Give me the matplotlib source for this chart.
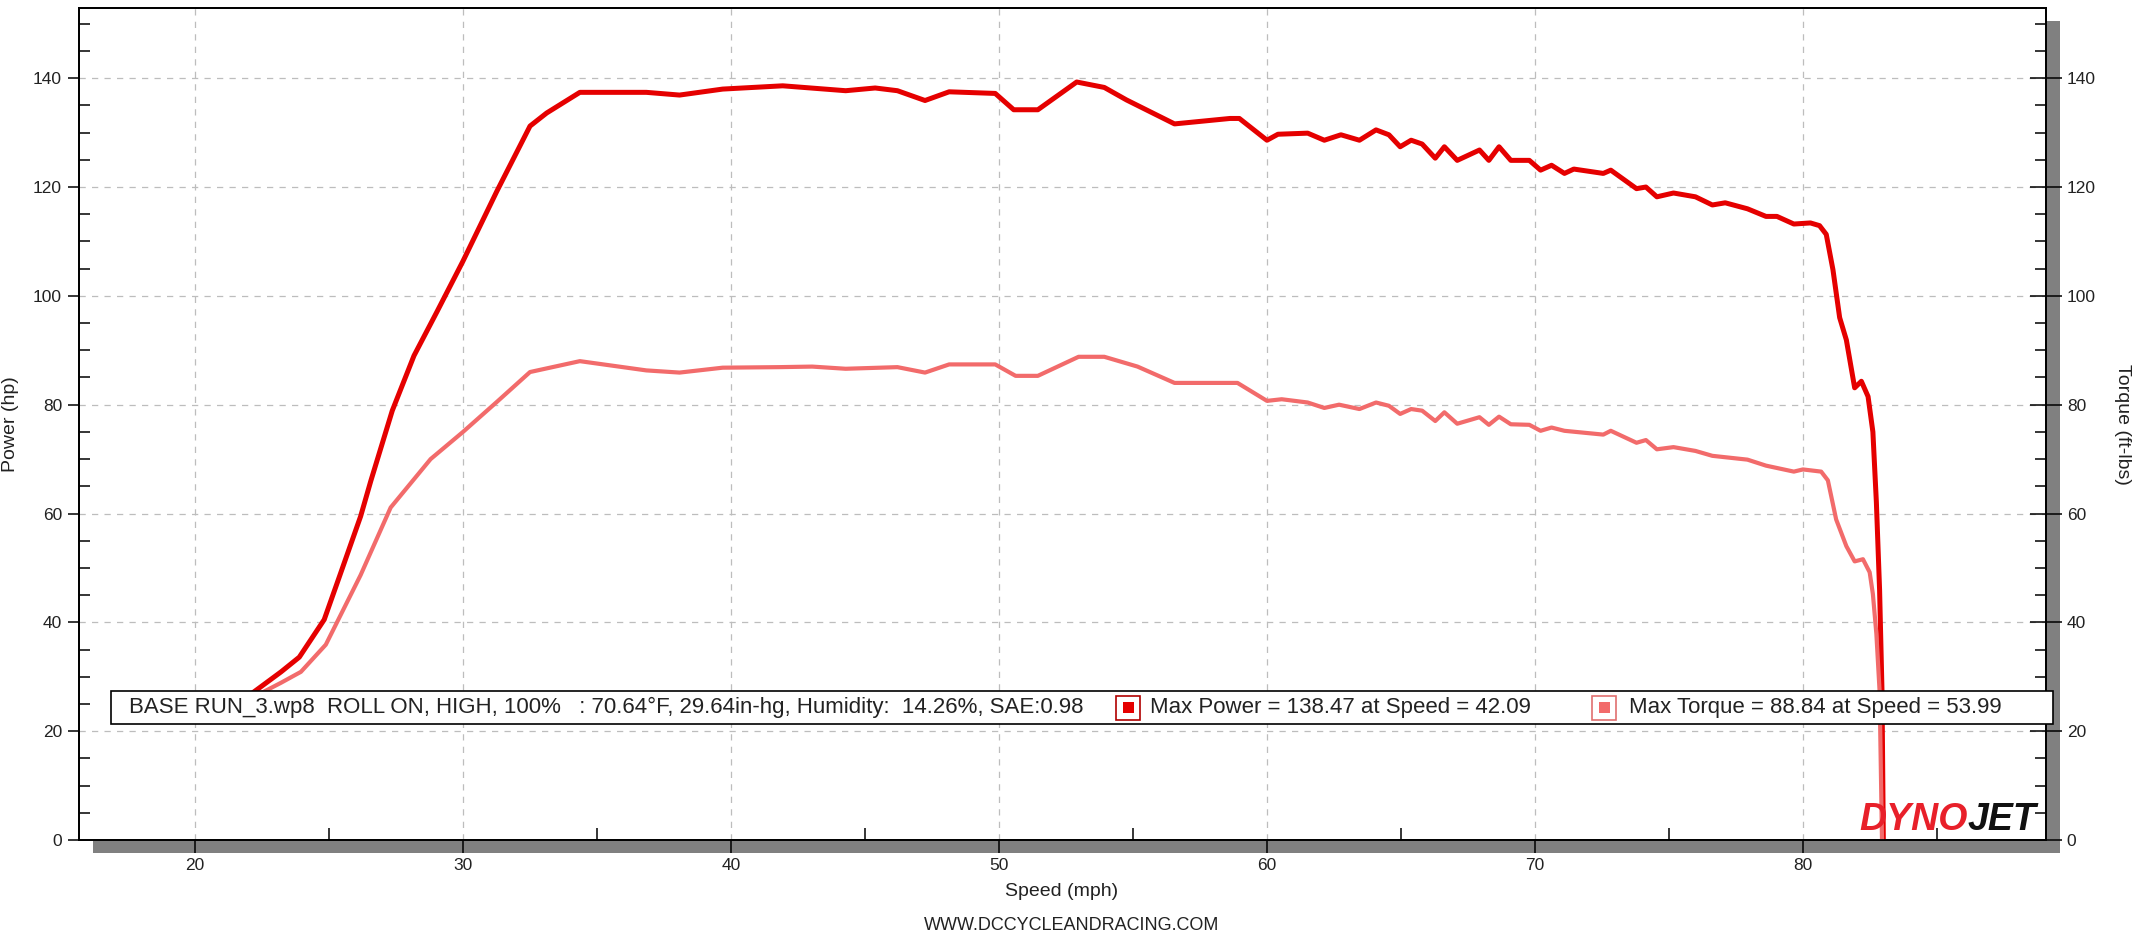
import numpy as np
import matplotlib
matplotlib.use("Agg")
import matplotlib.pyplot as plt
from matplotlib.patches import Rectangle
from matplotlib.ticker import MultipleLocator

# Dyno run - power / torque vs speed
plt.rcParams['font.family'] = ['Liberation Sans', 'DejaVu Sans']

## 1. DATA
power_speed = [22.0, 23.21, 23.89, 24.82, 25.38, 26.18, 26.56, 27.36, 28.17, 29.03,
               30.0, 31.26, 32.5, 33.12, 34.36, 36.84, 38.08, 39.69, 41.93, 44.28,
               45.38, 46.21, 47.24, 48.14, 49.86, 50.55, 51.45, 52.9, 53.93, 54.76,
               56.55, 58.62, 58.97, 60.0, 60.41, 61.52, 62.14, 62.76, 63.45, 64.07,
               64.55, 64.97, 65.38, 65.79, 66.28, 66.62, 67.1, 67.93, 68.28, 68.66,
               69.1, 69.79, 70.21, 70.62, 71.1, 71.45, 72.55, 72.83, 73.79, 74.14,
               74.55, 75.17, 75.99, 76.62, 77.1, 77.93, 78.62, 79.03, 79.66, 80.28,
               80.62, 80.87, 81.12, 81.37, 81.62, 81.93, 82.18, 82.43, 82.61, 82.74,
               82.86, 82.95, 83.0]
power_hp = [26.5, 30.9, 33.6, 40.5, 48.3, 59.5, 66.0, 78.9, 89.0, 97.1,
            106.4, 119.2, 131.2, 133.6, 137.4, 137.4, 136.9, 138.0, 138.6, 137.7,
            138.2, 137.7, 135.9, 137.5, 137.2, 134.2, 134.2, 139.3, 138.3, 136.0,
            131.6, 132.6, 132.6, 128.6, 129.7, 129.9, 128.6, 129.6, 128.6, 130.5,
            129.6, 127.4, 128.6, 127.9, 125.3, 127.4, 124.9, 126.8, 124.9, 127.4,
            124.9, 124.9, 123.1, 124.0, 122.5, 123.3, 122.5, 123.1, 119.7, 120.0,
            118.2, 118.9, 118.2, 116.7, 117.1, 116.0, 114.6, 114.6, 113.2, 113.4,
            112.9, 111.3, 104.8, 96.0, 91.9, 83.1, 84.3, 81.5, 75.0, 62.1,
            46.0, 27.4, 0.0]

torque_speed = [22.0, 23.21, 23.95, 24.88, 26.18, 27.3, 28.79, 30.0, 31.26, 32.5,
                34.36, 36.84, 38.08, 39.69, 41.8, 43.03, 44.28, 46.21, 47.24, 48.14,
                49.86, 50.62, 51.45, 52.97, 53.93, 55.17, 56.55, 58.9, 60.0, 60.55,
                61.52, 62.14, 62.69, 63.45, 64.07, 64.55, 64.97, 65.38, 65.79, 66.28,
                66.62, 67.1, 67.93, 68.28, 68.66, 69.1, 69.79, 70.21, 70.62, 71.1,
                72.55, 72.83, 73.79, 74.14, 74.55, 75.17, 75.99, 76.62, 77.93, 78.62,
                79.66, 80.0, 80.68, 80.93, 81.24, 81.62, 81.93, 82.24, 82.49, 82.61,
                82.74, 82.86, 82.95]
torque_ftlb = [25.8, 28.9, 30.9, 35.9, 48.7, 61.1, 70.0, 75.0, 80.5, 86.0,
               88.0, 86.3, 85.9, 86.8, 86.9, 87.0, 86.6, 86.9, 85.9, 87.4,
               87.4, 85.3, 85.3, 88.8, 88.8, 87.0, 84.0, 84.0, 80.7, 81.0,
               80.4, 79.4, 80.0, 79.2, 80.4, 79.8, 78.3, 79.2, 78.9, 77.0,
               78.6, 76.5, 77.7, 76.3, 77.8, 76.4, 76.3, 75.2, 75.8, 75.2,
               74.5, 75.2, 73.0, 73.5, 71.8, 72.2, 71.5, 70.6, 69.9, 68.8,
               67.7, 68.1, 67.7, 66.1, 58.9, 54.0, 51.2, 51.6, 49.2, 45.2,
               37.9, 27.4, 0.0]

run_info = "BASE RUN_3.wp8  ROLL ON, HIGH, 100%   : 70.64°F, 29.64in-hg, Humidity:  14.26%, SAE:0.98"
power_label = "Max Power = 138.47 at Speed = 42.09"
torque_label = "Max Torque = 88.84 at Speed = 53.99"

POWER_COLOR = '#E50000'
TORQUE_COLOR = '#F26B6B'

## 2. FIGURE / AXES (pixel layout of the original screenshot)
W, H = 2139, 939
fig = plt.figure(figsize=(W / 100, H / 100), dpi=100)
fig.patch.set_facecolor('white')

ax_l, ax_b, ax_w, ax_h = 79, 99, 1967, 832  # pixels from bottom-left
ax = fig.add_axes([ax_l / W, ax_b / H, ax_w / W, ax_h / H])

# grey drop shadow behind the plot frame
shadow = Rectangle(((ax_l + 14) / W, (ax_b - 13) / H), ax_w / W, ax_h / H,
                   transform=fig.transFigure, facecolor='#808080',
                   edgecolor='none', zorder=-1)
fig.patches.append(shadow)

ax.set_xlim(15.67, 89.07)
ax.set_ylim(0, 152.9)
ax.set_facecolor('white')

ax.plot(power_speed, power_hp, color=POWER_COLOR, lw=3.6,
        solid_joinstyle='round', zorder=3)

ax2 = ax.twinx()
ax2.set_ylim(0, 152.9)
ax2.plot(torque_speed, torque_ftlb, color=TORQUE_COLOR, lw=3.0,
         solid_joinstyle='round', zorder=2)

## 3. TICKS, GRID, SPINES
ax.xaxis.set_major_locator(MultipleLocator(10))
ax.xaxis.set_minor_locator(MultipleLocator(5))
for a in (ax, ax2):
    a.yaxis.set_major_locator(MultipleLocator(20))
    a.yaxis.set_minor_locator(MultipleLocator(5))
    for s in a.spines.values():
        s.set_linewidth(1.3)
        s.set_color('black')

ax.tick_params(axis='y', which='major', direction='out', length=7.9, width=1.1,
               labelsize=12.5, pad=4.3, labelcolor='#222222')
ax.tick_params(axis='y', which='minor', direction='in', length=7.9, width=1.1)
ax.tick_params(axis='x', which='major', direction='out', length=9.4, width=1.1,
               labelsize=12.5, pad=3.6, labelcolor='#222222')
ax.tick_params(axis='x', which='minor', direction='in', length=8.6, width=1.1)
ax.tick_params(right=False, top=False, which='both')

ax2.tick_params(axis='y', which='major', direction='inout', length=23, width=1.1,
                labelsize=12.5, pad=3.5, labelcolor='#222222')
ax2.tick_params(axis='y', which='minor', direction='in', length=7.9, width=1.1)

ax.grid(True, which='major', color='#BDBDBD', linestyle=(0, (5, 5)), linewidth=0.9)

## 4. LEGEND STRIP (drawn over the curves)
lx0 = (111 - ax_l) / ax_w
lx1 = (2053 - ax_l) / ax_w
ly0 = (840 - 724) / ax_h
ly1 = (840 - 691) / ax_h
ty = (840 - 707.5) / ax_h
ax2.add_patch(Rectangle((lx0, ly0), lx1 - lx0, ly1 - ly0, transform=ax2.transAxes,
                        facecolor='white', edgecolor='black', lw=1.2,
                        zorder=5, clip_on=False))
ax2.text((129 - ax_l) / ax_w, ty, run_info, transform=ax2.transAxes, fontsize=16,
         color='#222222', ha='left', va='center', zorder=6)

def legend_marker(cx_px, edge, fill):
    cx = (cx_px - ax_l) / ax_w
    ow, oh = 24 / ax_w, 24 / ax_h
    iw, ih = 11 / ax_w, 11 / ax_h
    ax2.add_patch(Rectangle((cx - ow / 2, ty - oh / 2), ow, oh, transform=ax2.transAxes,
                            facecolor='white', edgecolor=edge, lw=1.2, zorder=6))
    ax2.add_patch(Rectangle((cx - iw / 2, ty - ih / 2), iw, ih, transform=ax2.transAxes,
                            facecolor=fill, edgecolor='none', zorder=7))

legend_marker(1128, '#B00000', POWER_COLOR)
ax2.text((1150 - ax_l) / ax_w, ty, power_label, transform=ax2.transAxes, fontsize=16,
         color='#222222', ha='left', va='center', zorder=6)
legend_marker(1604, '#E07070', TORQUE_COLOR)
ax2.text((1629 - ax_l) / ax_w, ty, torque_label, transform=ax2.transAxes, fontsize=16,
         color='#222222', ha='left', va='center', zorder=6)

## 5. LOGO + LABELS
split = (1968 - ax_l) / ax_w
ax2.text(split, 0.002, "DYNO", transform=ax2.transAxes, fontsize=27, fontweight='bold',
         fontstyle='italic', color='#E8202A', ha='right', va='bottom', zorder=8)
ax2.text(split, 0.002, "JET", transform=ax2.transAxes, fontsize=27, fontweight='bold',
         fontstyle='italic', color='#111111', ha='left', va='bottom', zorder=8)

fig.text(11 / W, 1 - 424 / H, "Power (hp)", rotation=90, fontsize=14,
         ha='center', va='center', color='#222222')
fig.text(2122 / W, 1 - 424 / H, "Torque (ft-lbs)", rotation=270, fontsize=14,
         ha='center', va='center', color='#222222')
fig.text(1062 / W, 1 - 891 / H, "Speed (mph)", fontsize=14,
         ha='center', va='center', color='#222222')
fig.text(1072 / W, 1 - 925 / H, "WWW.DCCYCLEANDRACING.COM", fontsize=13,
         ha='center', va='center', color='#222222')

fig.savefig('out.png', dpi=100)
print("saved out.png")
